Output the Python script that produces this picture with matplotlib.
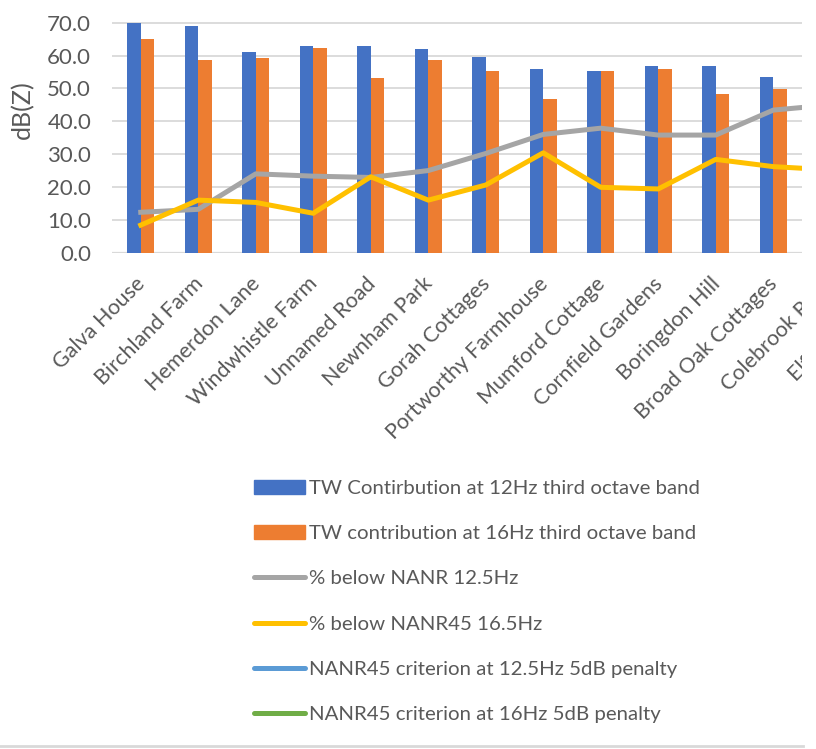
#!/usr/bin/env python3
"""Tonal contribution at receptor locations vs NANR45 low-frequency criteria."""

import matplotlib

matplotlib.use("Agg")
import matplotlib.pyplot as plt
from matplotlib.lines import Line2D
from matplotlib.patches import Patch
from matplotlib.transforms import Bbox, TransformedBbox

plt.rcParams["font.family"] = ["Lato", "DejaVu Sans"]

LOCATIONS = [
    "Galva House",
    "Birchland Farm",
    "Hemerdon Lane",
    "Windwhistle Farm",
    "Unnamed Road",
    "Newnham Park",
    "Gorah Cottages",
    "Portworthy Farmhouse",
    "Mumford Cottage",
    "Cornfield Gardens",
    "Boringdon Hill",
    "Broad Oak Cottages",
    "Colebrook Road",
    "Elford Cottage",
]
TW_12HZ = [69.9, 69.1, 61.0, 63.0, 62.9, 61.9, 59.5, 55.8, 55.2, 56.9, 56.7, 53.5, 52.0, 50.5]
TW_16HZ = [65.0, 58.7, 59.3, 62.2, 53.1, 58.6, 55.2, 46.8, 55.4, 55.9, 48.4, 49.9, 48.0, 47.0]
PCT_BELOW_12HZ = [12.3, 13.2, 24.0, 23.3, 22.9, 25.0, 30.2, 36.0, 37.9, 35.8, 35.8, 43.4, 45.0, 44.5]
PCT_BELOW_16HZ = [8.4, 16.0, 15.3, 12.0, 23.1, 16.0, 20.6, 30.4, 19.9, 19.4, 28.4, 26.2, 25.2, 25.0]
Y_TICKS = [0, 10, 20, 30, 40, 50, 60, 70]

BLUE = "#4472C4"
ORANGE = "#ED7D31"
GREY = "#A5A5A5"
YELLOW = "#FFC000"
LIGHT_BLUE = "#5B9BD5"
GREEN = "#70AD47"
TEXT = "#595959"
GRID = "#D9D9D9"

W, H = 816, 749
fig = plt.figure(figsize=(W / 100, H / 100), dpi=100)

# plot area in pixels; only the first twelve locations fit in view
px_per_unit = (252.7 - 22.7) / 70
y_top = 72
ax_left, ax_right, ax_bottom = 112, 802, 252.7
ax_top = ax_bottom - y_top * px_per_unit
ax = fig.add_axes(
    [ax_left / W, 1 - ax_bottom / H, (ax_right - ax_left) / W, (ax_bottom - ax_top) / H]
)

x = list(range(len(LOCATIONS)))
bw = 0.235
ax.bar([i - bw / 2 for i in x], TW_12HZ, bw, color=BLUE, zorder=2)
ax.bar([i + bw / 2 for i in x], TW_16HZ, bw, color=ORANGE, zorder=2)
ax.plot(x, PCT_BELOW_12HZ, color=GREY, lw=3.6, solid_joinstyle="round", zorder=3)
ax.plot(x, PCT_BELOW_16HZ, color=YELLOW, lw=3.6, solid_joinstyle="round", zorder=4)

ax.set_xlim(-0.5, 11.5)
ax.set_ylim(0, y_top)
ax.set_yticks(Y_TICKS)
ax.set_yticklabels([f"{v:.1f}" for v in Y_TICKS], fontsize=16, color=TEXT)
ax.tick_params(axis="y", length=0, pad=15)
ax.set_xticks([])
ax.yaxis.grid(True, color=GRID, lw=1.3, zorder=0)
for s in ax.spines.values():
    s.set_visible(False)
ax.axhline(0, color=GRID, lw=1.6, zorder=1)

ax.set_ylabel("dB(Z)", fontsize=18, color=TEXT)
ax.yaxis.label.set_va("center")
ax.yaxis.set_label_coords((23 - ax_left) / (ax_right - ax_left), (ax_bottom - 110) / (ax_bottom - ax_top))

# category labels; the chart area is cut at the right, labels included
chart_clip = TransformedBbox(Bbox.from_extents(0, 0, ax_right / W, 1), fig.transFigure)
for i, name in enumerate(LOCATIONS):
    t = ax.annotate(
        name,
        xy=(i, 0),
        xycoords=("data", "axes fraction"),
        xytext=(1, -20),
        textcoords="offset points",
        rotation=45,
        rotation_mode="anchor",
        ha="right",
        va="center",
        fontsize=15.5,
        color=TEXT,
        annotation_clip=False,
    )
    t.set_clip_box(chart_clip)
    t.set_clip_on(True)

handles = [
    Patch(color=BLUE),
    Patch(color=ORANGE),
    Line2D([], [], color=GREY, lw=3.6, solid_capstyle="round"),
    Line2D([], [], color=YELLOW, lw=3.6, solid_capstyle="round"),
    Line2D([], [], color=LIGHT_BLUE, lw=3.6, solid_capstyle="round"),
    Line2D([], [], color=GREEN, lw=3.6, solid_capstyle="round"),
]
labels = [
    "TW Contirbution at 12Hz third octave band",
    "TW contribution at 16Hz third octave band",
    "% below NANR 12.5Hz",
    "% below NANR45 16.5Hz",
    "NANR45 criterion at 12.5Hz 5dB penalty",
    "NANR45 criterion at 16Hz 5dB penalty",
]
leg = fig.legend(
    handles,
    labels,
    loc="upper left",
    bbox_to_anchor=(254 / W, 1 - 480 / H),
    frameon=False,
    fontsize=14.7,
    labelcolor=TEXT,
    handlelength=2.5,
    handleheight=0.65,
    handletextpad=0.2,
    labelspacing=1.38,
    borderpad=0,
    borderaxespad=0,
)

fig.add_artist(Line2D([0, 803 / W], [1 - 746 / H] * 2, color=GRID, lw=2))

fig.savefig("out.png", dpi=100)
